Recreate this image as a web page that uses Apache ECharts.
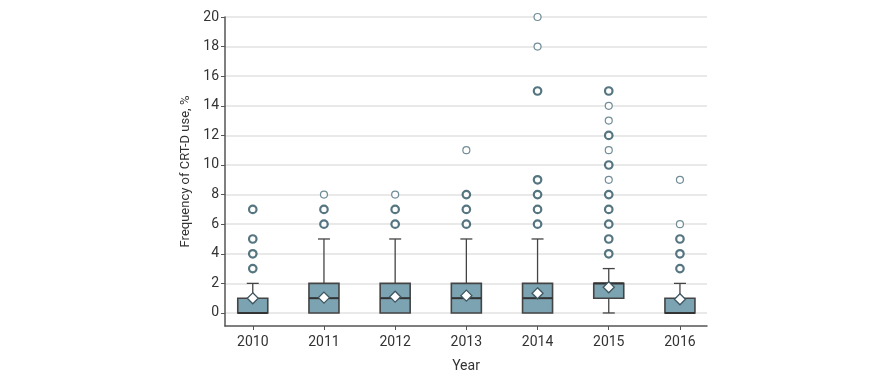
<!DOCTYPE html>
<html>
<head>
<meta charset="utf-8">
<script src="https://cdn.jsdelivr.net/npm/echarts@6/dist/echarts.min.js"></script>
<style>html,body{margin:0;padding:0;background:#fff}#c{width:879px;height:382px}</style>
</head>
<body>
<div id="c"></div>
<script>
var years = [2010, 2011, 2012, 2013, 2014, 2015, 2016];
var whiskerLow = [0, 0, 0, 0, 0, 0, 0];
var q1 = [0, 0, 0, 0, 0, 1, 0];
var median = [0, 1, 1, 1, 1, 2, 0];
var q3 = [1, 2, 2, 2, 2, 2, 1];
var whiskerHigh = [2, 5, 5, 5, 5, 3, 2];
var means = [0.99, 1.04, 1.1, 1.17, 1.33, 1.74, 0.93];
var outliersHeavy = [[3, 4, 5, 7], [6, 7], [6, 7], [6, 7, 8], [6, 7, 8, 9, 15], [4, 5, 6, 7, 8, 10, 12, 15], [3, 4, 5]];
var outliersLight = [[], [8], [8], [11], [18, 20], [9, 11, 13, 14], [6, 9]];
var yTicks = [0, 2, 4, 6, 8, 10, 12, 14, 16, 18, 20];

var boxData = years.map(function (y, i) {
  return [y, whiskerLow[i], q1[i], median[i], q3[i], whiskerHigh[i], means[i]];
});
function flatten(arr) {
  var out = [];
  arr.forEach(function (vals, i) { vals.forEach(function (v) { out.push([years[i], v]); }); });
  return out;
}

var FONT = 'Roboto';
var chart = echarts.init(document.getElementById('c'));
chart.setOption({
  animation: false,
  grid: { left: 225, right: 172, top: 17, bottom: 56 },
  xAxis: {
    type: 'value', min: 2009.61, max: 2016.38,
    name: 'Year', nameLocation: 'middle', nameGap: 33,
    nameTextStyle: { fontFamily: FONT, fontSize: 14, color: '#333' },
    axisLine: { show: true, onZero: false, lineStyle: { color: '#555', width: 1.5 } },
    axisTick: { show: true, length: 4, customValues: years, lineStyle: { color: '#555' } },
    axisLabel: { customValues: years, margin: 9, fontFamily: FONT, fontSize: 14, color: '#333', formatter: function (v) { return String(v); } },
    splitLine: { show: false }
  },
  yAxis: {
    type: 'value', min: -0.88, max: 20,
    name: 'Frequency of CRT-D use, %', nameLocation: 'middle', nameGap: 33,
    nameTextStyle: { fontFamily: FONT, fontSize: 13, color: '#333' },
    axisLine: { show: true, onZero: false, lineStyle: { color: '#555', width: 1.5 } },
    axisTick: { show: true, length: 4, customValues: yTicks, lineStyle: { color: '#555' } },
    axisLabel: { customValues: yTicks, margin: 6, fontFamily: FONT, fontSize: 14, color: '#333' },
    splitLine: { show: true, lineStyle: { color: '#e2e2e2', width: 1.5 } }
  },
  series: [
    {
      type: 'custom',
      data: boxData,
      z: 2,
      renderItem: function (params, api) {
        var x = api.value(0);
        var pLow = api.coord([x, api.value(1)]);
        var pQ1 = api.coord([x, api.value(2)]);
        var pMed = api.coord([x, api.value(3)]);
        var pQ3 = api.coord([x, api.value(4)]);
        var pHigh = api.coord([x, api.value(5)]);
        var pMean = api.coord([x, api.value(6)]);
        var cx = pQ1[0];
        var half = 15, cap = 6, d = 5.5;
        var lineStyle = { stroke: '#444', lineWidth: 1.3 };
        var children = [];
        if (pHigh[1] < pQ3[1]) {
          children.push({ type: 'line', shape: { x1: cx, y1: pQ3[1], x2: cx, y2: pHigh[1] }, style: lineStyle });
          children.push({ type: 'line', shape: { x1: cx - cap, y1: pHigh[1], x2: cx + cap, y2: pHigh[1] }, style: lineStyle });
        }
        if (pLow[1] > pQ1[1]) {
          children.push({ type: 'line', shape: { x1: cx, y1: pQ1[1], x2: cx, y2: pLow[1] }, style: lineStyle });
          children.push({ type: 'line', shape: { x1: cx - cap, y1: pLow[1], x2: cx + cap, y2: pLow[1] }, style: lineStyle });
        }
        children.push({ type: 'rect', shape: { x: cx - half, y: pQ3[1], width: 2 * half, height: pQ1[1] - pQ3[1] },
          style: { fill: '#7ca3b1', stroke: '#444', lineWidth: 1.6 } });
        children.push({ type: 'line', shape: { x1: cx - half, y1: pMed[1], x2: cx + half, y2: pMed[1] },
          style: { stroke: '#333', lineWidth: 2 } });
        children.push({ type: 'polygon', shape: { points: [[cx, pMean[1] - d], [cx + d, pMean[1]], [cx, pMean[1] + d], [cx - d, pMean[1]]] },
          style: { fill: '#ffffff', stroke: '#3e5660', lineWidth: 1.3 } });
        return { type: 'group', children: children };
      }
    },
    {
      type: 'scatter', data: flatten(outliersLight), symbol: 'circle', symbolSize: 7, z: 3,
      itemStyle: { color: '#ffffff', borderColor: '#4d717d', borderWidth: 1.2 }
    },
    {
      type: 'scatter', data: flatten(outliersHeavy), symbol: 'circle', symbolSize: 7.5, z: 3,
      itemStyle: { color: '#ffffff', borderColor: '#2b5360', borderWidth: 2.2 }
    }
  ]
});
</script>
</body>
</html>
